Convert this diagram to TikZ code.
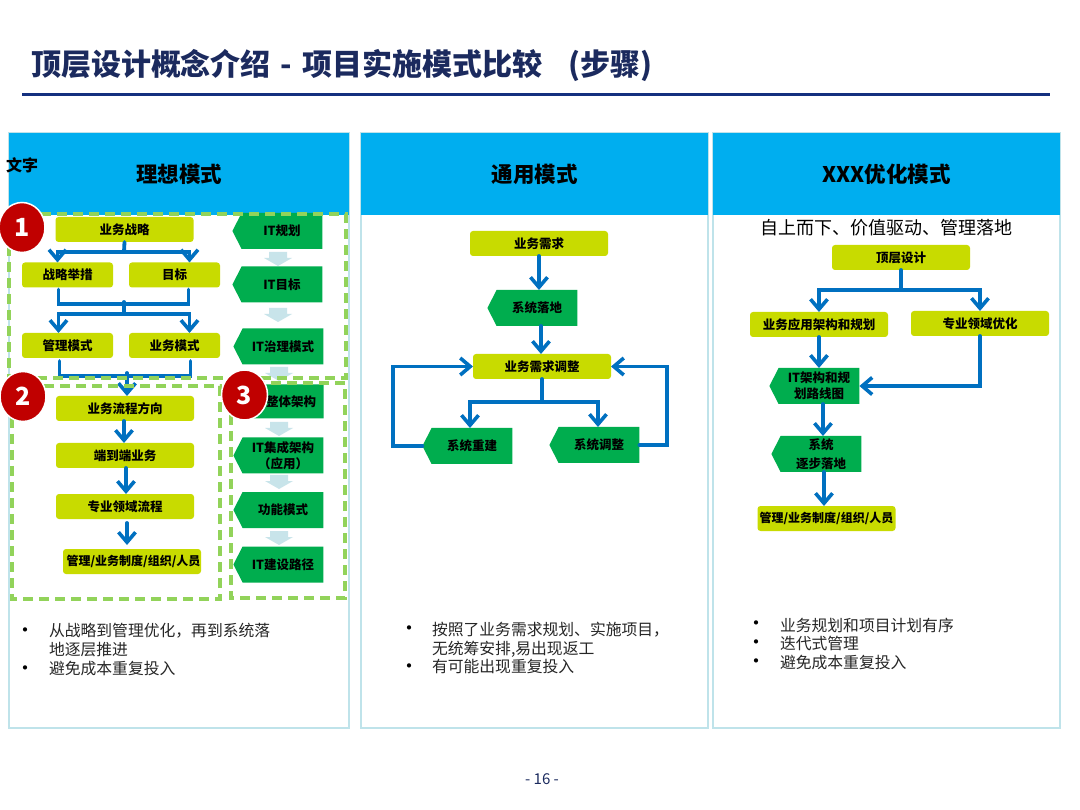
\documentclass[tikz,border=0pt]{standalone}
\usepackage{fontspec}
\setmainfont{Noto Sans CJK SC}
\usetikzlibrary{arrows.meta,shapes.symbols,shapes.geometric}
\definecolor{navy}{HTML}{1B2A5E}
\definecolor{rulenavy}{HTML}{14307F}
\definecolor{headblue}{HTML}{00AEEF}
\definecolor{panelline}{HTML}{BFE3EA}
\definecolor{lime}{HTML}{C8DB00}
\definecolor{leaf}{HTML}{00AD4E}
\definecolor{flow}{HTML}{0070C0}
\definecolor{dashgreen}{HTML}{92D35A}
\definecolor{pale}{HTML}{C8E4EA}
\definecolor{badge}{HTML}{C00000}
\begin{document}
\begin{tikzpicture}[x=1pt,y=-1pt,>={Straight Barb[length=10pt,width=17pt,line width=3.6pt]},
    every node/.style={inner sep=0pt,outer sep=0pt},
    panelbox/.style={draw=panelline,line width=1.2pt,fill=white,minimum height=595pt,anchor=north},
    headbox/.style={fill=headblue,minimum height=82pt,anchor=north,font=\fontsize{21.5}{24}\selectfont\bfseries},
    limebox/.style={fill=lime,rounded corners=3pt,minimum width=138pt,minimum height=25pt,font=\fontsize{12.5}{15}\selectfont\bfseries},
    limeshort/.style={limebox,minimum width=91pt},
    leafbox/.style={fill=leaf,shape=signal,signal to=west,signal from=nowhere,signal pointer angle=126,minimum width=90pt,minimum height=36pt,align=center,font=\fontsize{12.5}{15.5}\selectfont\bfseries},
    paledown/.style={fill=pale},
    flowline/.style={draw=flow,line width=3.8pt,line cap=round},
    dashbox/.style={draw=dashgreen,line width=4pt,dash pattern=on 10pt off 6pt},
    redmark/.style={ellipse,fill=badge,draw=white,line width=1.5pt,minimum width=46pt,minimum height=50pt,text=white,font=\fontsize{25}{28}\selectfont\bfseries},
    notetext/.style={anchor=west,align=left,font=\fontsize{15.8}{18.8}\selectfont,text=black!85},
    dotmark/.style={font=\fontsize{20}{22}\selectfont}]
    \useasboundingbox (0,0) rectangle (1080,810);
    \node[anchor=west,text=navy,font=\fontsize{30}{34}\selectfont\bfseries] (title) at (31,65) {顶层设计概念介绍\hspace*{10pt}-\hspace*{10pt}项目实施模式比较\hspace*{26pt}(步骤)};
    \draw[rulenavy,line width=3pt] (22,95) -- (1050,95);

    \node[panelbox,minimum width=340pt] (panela) at (179,133) {};
    \node[panelbox,minimum width=347pt] (panelb) at (534.5,133) {};
    \node[panelbox,minimum width=347pt] (panelc) at (886.5,133) {};
    \node[headbox,minimum width=340pt] (heada) at (179,133) {理想模式};
    \node[headbox,minimum width=347pt] (headb) at (534.5,133) {通用模式};
    \node[headbox,minimum width=347pt] (headc) at (886.5,133) {XXX优化模式};
    \node[font=\fontsize{16}{18}\selectfont\bfseries] (wenzi) at (22,165) {文字};

    \node[limebox] (strategy) at (124.5,229.5) {业务战略};
    \node[limeshort] (measure) at (67.5,275) {战略举措};
    \node[limeshort] (target) at (174.5,275) {目标};
    \node[limeshort] (manage) at (67.5,345.5) {管理模式};
    \node[limeshort] (bizmode) at (174.5,345.5) {业务模式};
    \node[limebox] (process) at (125,408.5) {业务流程方向};
    \node[limebox] (endtoend) at (125,455.5) {端到端业务};
    \node[limebox] (domain) at (125,506.5) {专业领域流程};
    \node[limebox,font=\fontsize{12}{15}\selectfont\bfseries] (people) at (132,561.5) {\hspace*{3pt}管理/业务制度/组织/人员};

    \node[leafbox] (itplan) at (282,231) {IT规划};
    \node[leafbox] (ittarget) at (282,284.5) {IT目标};
    \node[leafbox] (itgov) at (283,346.5) {IT治理模式};
    \node[leafbox,minimum height=34pt] (itarch) at (283,401.5) {\hspace*{16pt}整体架构};
    \node[leafbox] (itinteg) at (283,455.5) {IT集成架构\\（应用）};
    \node[leafbox] (itfunc) at (283,510) {功能模式};
    \node[leafbox] (itroad) at (283,564.5) {IT建设路径};

    \foreach \x/\y in {278/252,278/308,279/367,279/422,279/475,279/531}
        \fill[paledown,shift={(\x,\y)}] (-9,0) -- (9,0) -- (9,6) -- (14,6) -- (0,14) -- (-14,6) -- (-9,6) -- cycle;

    \coordinate (splita) at (124,252);
    \coordinate (joina) at (124,302);
    \coordinate (splitb) at (124,314);
    \coordinate (joinb) at (127,373);
    \draw[flowline] (strategy.south) -- (splita);
    \draw[flowline,->] (splita) -| ([xshift=-10pt]measure.north);
    \draw[flowline,->] (splita) -| ([xshift=15pt]target.north);
    \draw[flowline] ([xshift=-9pt,yshift=-2pt]measure.south) |- ([xshift=14pt,yshift=-2pt]target.south |- joina) -- ([xshift=14pt,yshift=-2pt]target.south);
    \draw[flowline] (joina) -- (splitb);
    \draw[flowline,->] (splitb) -| ([xshift=-9pt]manage.north);
    \draw[flowline,->] (splitb) -| ([xshift=15pt]bizmode.north);
    \draw[flowline] ([xshift=-8pt,yshift=-3pt]manage.south) |- ([xshift=16pt,yshift=-3pt]bizmode.south |- joinb) -- ([xshift=16pt,yshift=-3pt]bizmode.south);
    \draw[flowline,->] (joinb) -- (process.north -| joinb);
    \draw[flowline,->] ([xshift=-1pt]process.south) -- ([xshift=-1pt]endtoend.north);
    \draw[flowline,->] ([xshift=1pt]endtoend.south) -- ([xshift=1pt]domain.north);
    \draw[flowline,->] ([xshift=2pt,yshift=-4pt]domain.south) -- ([xshift=-5pt,yshift=4pt]people.north);

    \node[limebox] (demand) at (539,243.5) {业务需求};
    \node[leafbox] (landing) at (537,308) {系统落地};
    \node[limebox] (adjust) at (542,366.5) {业务需求调整};
    \node[leafbox] (rebuild) at (472,446) {系统重建};
    \node[leafbox] (tuning) at (599,445) {系统调整};

    \coordinate (splitc) at (542,402);
    \draw[flowline,->] (demand.south) -- (landing.north -| demand.south);
    \draw[flowline,->] ([xshift=2pt]demand.south |- landing.south) -- (adjust.north -| 541,0);
    \draw[flowline] (adjust.south) -- (splitc);
    \draw[flowline,->] (splitc) -| ([xshift=-2pt]rebuild.north);
    \draw[flowline,->] (splitc) -| ([xshift=-1pt]tuning.north);
    \draw[flowline,->] (rebuild.west) -- (393,446) |- (adjust.west);
    \draw[flowline,->] (tuning.east) -- (667,445) |- (adjust.east);

    \node[font=\fontsize{18}{22}\selectfont] (slogan) at (886.5,228) {自上而下、价值驱动、管理落地};
    \node[limebox] (topdesign) at (901,257.5) {顶层设计};
    \node[limebox] (appplan) at (819,324.5) {业务应用架构和规划};
    \node[limebox] (domainopt) at (980,323.5) {专业领域优化};
    \node[leafbox] (archmap) at (819,386) {IT架构和规\\划路线图};
    \node[leafbox] (stepwise) at (821,454) {系统\\[3pt]逐步落地};
    \node[limebox,font=\fontsize{12}{15}\selectfont\bfseries] (peopleb) at (826.5,518.5) {管理/业务制度/组织/人员};

    \coordinate (splitd) at (901,290);
    \draw[flowline] (topdesign.south) -- (splitd);
    \draw[flowline,->] (splitd) -| (appplan.north);
    \draw[flowline,->] (splitd) -| (domainopt.north);
    \draw[flowline,->] (appplan.south) -- (archmap.north -| appplan.south);
    \draw[flowline,->] (domainopt.south) |- (archmap.east);
    \draw[flowline,->] ([xshift=4pt]archmap.south) -- (stepwise.north -| 823,0);
    \draw[flowline,->] ([xshift=3pt]stepwise.south) -- (peopleb.north -| 824,0);

    \draw[dashbox] (9,214) rectangle (346,378);
    \draw[dashbox] (12,386) rectangle (220,599);
    \draw[dashbox] (231,383) rectangle (345,598);
    \node[redmark] (marka) at (22,227.5) {1};
    \node[redmark] (markb) at (23,396.5) {2};
    \node[redmark] (markc) at (244.5,395) {3};

    \node[dotmark] (dota) at (26,633) {•};
    \node[dotmark] (dotb) at (26,671) {•};
    \node[notetext] (notea) at (49,649.5) {从战略到管理优化，再到系统落\\地逐层推进\\避免成本重复投入};
    \node[dotmark] (dotc) at (409,631) {•};
    \node[dotmark] (dotd) at (409,669) {•};
    \node[notetext] (noteb) at (432,648) {按照了业务需求规划、实施项目，\\无统筹安排,易出现返工\\有可能出现重复投入};
    \node[dotmark] (dote) at (756,626) {•};
    \node[dotmark] (dotf) at (756,645) {•};
    \node[dotmark] (dotg) at (756,664) {•};
    \node[notetext] (notec) at (780,644) {业务规划和项目计划有序\\迭代式管理\\避免成本重复投入};

    \node[text=navy,font=\fontsize{15}{17}\selectfont] (pagenum) at (542,779) {- 16 -};
\end{tikzpicture}
\end{document}
